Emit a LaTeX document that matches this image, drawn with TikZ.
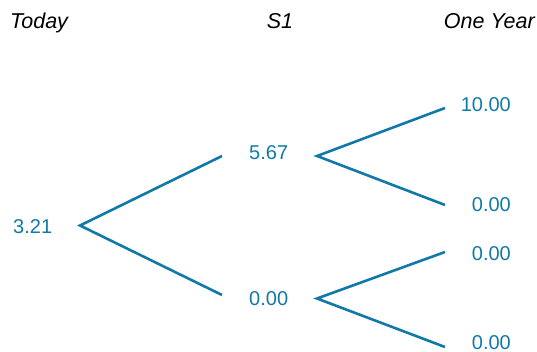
\documentclass[tikz,border=0pt]{standalone}
\usepackage{fontspec}
\setmainfont{Liberation Sans}
\definecolor{treeblue}{RGB}{17,121,168}
\begin{document}
\begin{tikzpicture}[x=1pt,y=-1pt,
  head/.style={inner sep=0pt,font=\fontsize{21.5}{26}\selectfont\itshape,text=black},
  val/.style={inner sep=0pt,font=\fontsize{20}{24}\selectfont,text=treeblue},
  branch/.style={draw=treeblue,line width=2.6pt}]
\useasboundingbox (0,0) rectangle (537,352);
% headers
\node[head,anchor=base west] (today) at (10,28.5) {Today};
\node[head,anchor=base] (s1) at (280,28.5) {S1};
\node[head,anchor=base east] (oneyear) at (535,28.5) {One Year};
% values
\node[val,anchor=base west] (n0) at (13,234) {3.21};
\node[val,anchor=base west] (u) at (249,160) {5.67};
\node[val,anchor=base west] (d) at (249,305.5) {0.00};
\node[val,anchor=base east] (uu) at (511,111.5) {10.00};
\node[val,anchor=base east] (ud) at (511,211.5) {0.00};
\node[val,anchor=base east] (du) at (511,260) {0.00};
\node[val,anchor=base east] (dd) at (511,349.6) {0.00};
% branch points
\coordinate (v0) at (80,225.5);
\coordinate (v1) at (317,156);
\coordinate (v2) at (317,298.5);
\coordinate (eu) at (222,156);
\coordinate (ed) at (222,295);
\coordinate (euu) at (445,108);
\coordinate (eud) at (445,205);
\coordinate (edu) at (445,252);
\coordinate (edd) at (445,347);
\draw[branch] (eu) -- (v0) -- (ed);
\draw[branch] (euu) -- (v1) -- (eud);
\draw[branch] (edu) -- (v2) -- (edd);
\end{tikzpicture}
\end{document}
